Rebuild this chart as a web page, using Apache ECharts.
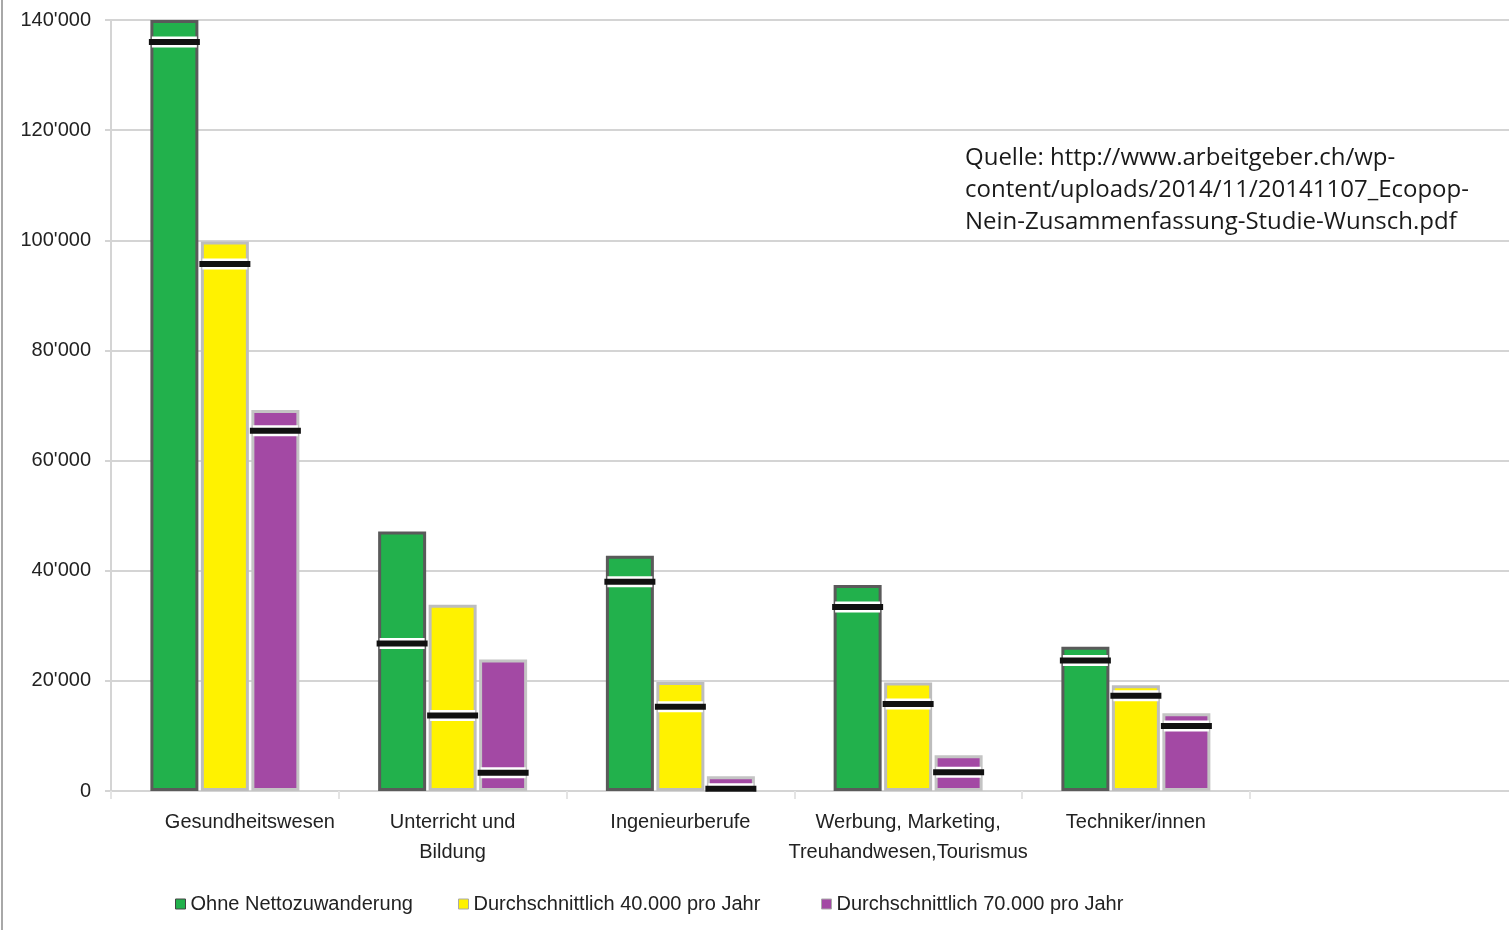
<!DOCTYPE html>
<html>
<head>
<meta charset="utf-8">
<script src="https://cdn.jsdelivr.net/npm/echarts@6/dist/echarts.min.js"></script>
<style>
  html, body { margin: 0; padding: 0; background: #fff; }
  #chart { width: 1509px; height: 930px; }
</style>
</head>
<body>
<div id="chart"></div>
<script>
// Occupational groups
const categories = ['Gesundheitswesen', 'Unterricht und\nBildung', 'Ingenieurberufe',
  'Werbung, Marketing,\nTreuhandwesen,Tourismus', 'Techniker/innen'];

const seriesNames = ['Ohne Nettozuwanderung', 'Durchschnittlich 40.000 pro Jahr', 'Durchschnittlich 70.000 pro Jahr'];

// Bar heights per scenario
const ohneNetto = [140000, 47100, 42700, 37400, 26200];
const durch40k  = [99800, 33800, 19800, 19700, 19200];
const durch70k  = [69200, 23900, 2700, 6500, 14100];

// Black marker levels inside each bar
const markOhne = [136000, 26800, 38000, 33400, 23700];
const mark40k  = [95700, 13700, 15300, 15800, 17300];
const mark70k  = [65400, 3300, 400, 3400, 11800];

const yTicks = { min: 0, max: 140000, interval: 20000 };

const colors = ['#22b14c', '#fff200', '#a349a4'];
const borders = ['#5a5a5a', '#bdbdbd', '#c4c4c4'];
const barValues = [ohneNetto, durch40k, durch70k];
const markValues = [markOhne, mark40k, mark70k];

const FONT = '"Liberation Sans", Arial, sans-serif';
const TEXT = '#222222';
const BAR_W = 48;
const STEP = 50.5;
const CAT_W = 227.75;
const PLOT_LEFT = 111, PLOT_TOP = 20, PLOT_H = 771;

const chart = echarts.init(document.getElementById('chart'), null, { renderer: 'canvas' });

const series = [];
barValues.forEach((vals, i) => {
  series.push({
    name: seriesNames[i],
    type: 'bar',
    xAxisIndex: 1, yAxisIndex: 1,
    data: vals,
    barWidth: BAR_W,
    barGap: ((STEP - BAR_W) / BAR_W * 100).toFixed(1) + '%',
    itemStyle: { color: colors[i], borderColor: borders[i], borderWidth: 3 },
    z: 2
  });
});
// White halo and black level line over each bar
markValues.forEach((vals, i) => {
  const off = (i - 1) * STEP;
  series.push({
    type: 'scatter',
    xAxisIndex: 1, yAxisIndex: 1,
    data: vals,
    symbol: 'rect',
    symbolSize: [BAR_W - 3, 11],
    symbolOffset: [off, 0],
    itemStyle: { color: '#ffffff', opacity: 1 },
    silent: true,
    z: 3
  });
  series.push({
    type: 'scatter',
    xAxisIndex: 1, yAxisIndex: 1,
    data: vals,
    symbol: 'rect',
    symbolSize: [BAR_W + 3, 6],
    symbolOffset: [off, 0],
    itemStyle: { color: '#111111', opacity: 1 },
    silent: true,
    z: 4
  });
});

function fmt(v) {
  if (v === 0) return '0';
  const s = String(v);
  return s.slice(0, s.length - 3) + "'" + s.slice(-3);
}

const legendPos = [175, 458, 821];
const legends = seriesNames.map((n, i) => ({
  data: [n],
  left: legendPos[i],
  top: 894,
  orient: 'horizontal',
  icon: 'rect',
  itemWidth: 10,
  itemHeight: 10,
  itemGap: 0,
  padding: 0,
  itemStyle: { color: colors[i], borderColor: i === 0 ? '#444' : '#aaa', borderWidth: 1 },
  textStyle: { fontFamily: FONT, fontSize: 20, color: TEXT },
  selectedMode: false
}));

chart.setOption({
  animation: false,
  backgroundColor: '#ffffff',
  grid: [
    // full-width frame: value labels, gridlines and the base line
    { left: PLOT_LEFT, top: PLOT_TOP, right: 0, height: PLOT_H },
    // bar area: one slot per occupational group
    { left: PLOT_LEFT, top: PLOT_TOP, width: CAT_W * categories.length, height: PLOT_H }
  ],
  legend: legends,
  xAxis: [
    {
      gridIndex: 0, type: 'value', min: 0, max: 1,
      axisLine: { show: true, onZero: false, lineStyle: { color: '#d4d4d4', width: 2 } },
      axisTick: { show: false }, axisLabel: { show: false }, splitLine: { show: false }
    },
    {
      gridIndex: 1, type: 'category',
      data: categories.map((c, i) => i === 0 ? { value: c, textStyle: { padding: [0, 0, 0, 50] } } : c),
      axisLine: { show: false },
      axisTick: { show: true, length: 8, interval: 0, lineStyle: { color: '#e4e4e4', width: 2 } },
      axisLabel: {
        interval: 0, margin: 16, fontFamily: FONT, fontSize: 20, color: TEXT,
        lineHeight: 30
      },
      splitLine: { show: false }
    }
  ],
  yAxis: [
    {
      gridIndex: 0, type: 'value',
      min: yTicks.min, max: yTicks.max, interval: yTicks.interval,
      axisLine: { show: true, lineStyle: { color: '#d4d4d4', width: 2 } },
      axisTick: { show: true, length: 6, lineStyle: { color: '#d4d4d4', width: 2 } },
      axisLabel: { formatter: fmt, margin: 20, fontFamily: FONT, fontSize: 20, color: TEXT },
      splitLine: { show: true, lineStyle: { color: '#d4d4d4', width: 2 } }
    },
    {
      gridIndex: 1, type: 'value',
      min: yTicks.min, max: yTicks.max, interval: yTicks.interval,
      show: false, splitLine: { show: false }
    }
  ],
  graphic: [
    {
      type: 'line',
      shape: { x1: 2, y1: 0, x2: 2, y2: 930 },
      style: { stroke: '#a8a8a8', lineWidth: 2 },
      silent: true
    },
    {
      type: 'text',
      left: 965,
      top: 142,
      silent: true,
      style: {
        text: 'Quelle: http://www.arbeitgeber.ch/wp-\ncontent/uploads/2014/11/20141107_Ecopop-\nNein-Zusammenfassung-Studie-Wunsch.pdf',
        font: '24px "Open Sans", sans-serif',
        lineHeight: 32,
        fill: '#1a1a1a'
      }
    }
  ],
  series: series
});
</script>
</body>
</html>
